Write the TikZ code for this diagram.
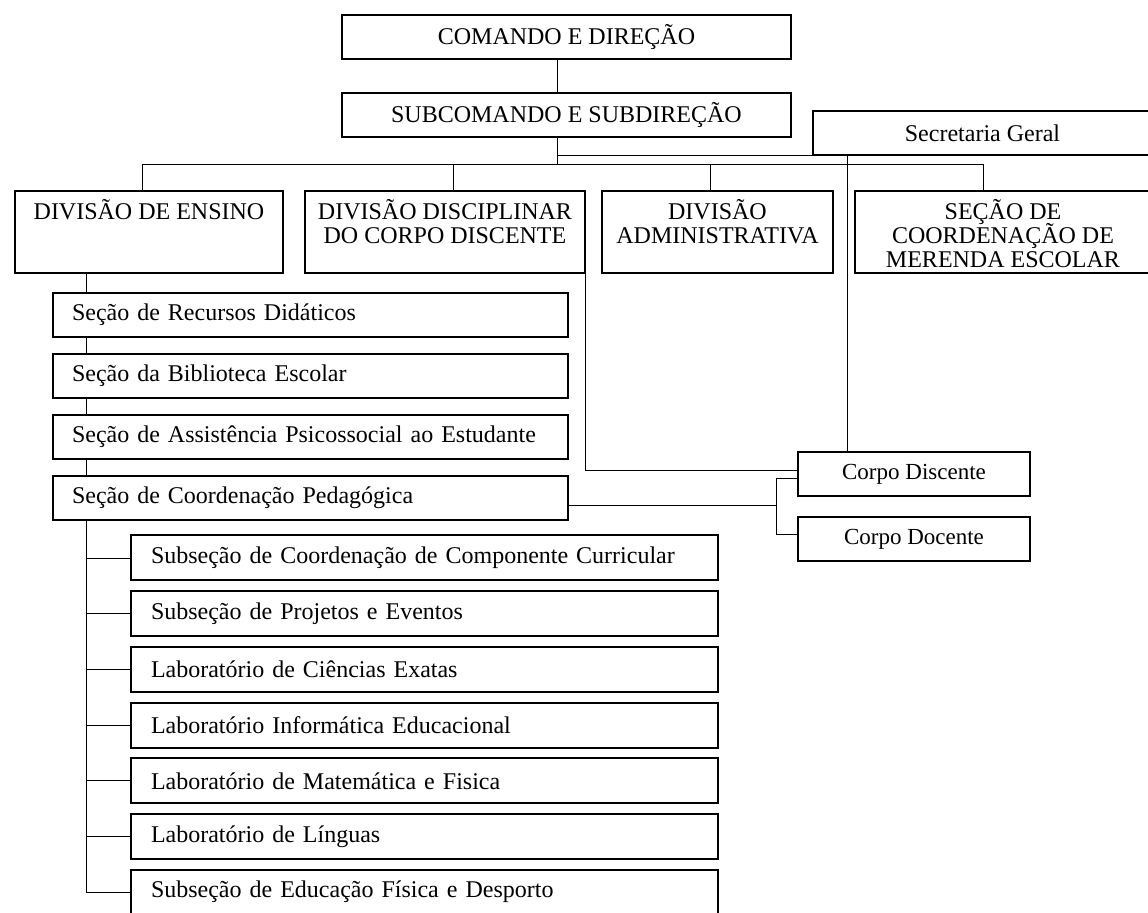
\documentclass[tikz,border=0pt]{standalone}
\usepackage{fontspec}
\setmainfont{Liberation Serif}
\usetikzlibrary{backgrounds}
\newcommand{\divlabel}[2]{\parbox[c][41pt][t]{#1}{\lineskiplimit=-20pt\centering\rule{0pt}{14.5pt}#2}}

\begin{document}
\begin{tikzpicture}[x=0.5pt,y=-0.5pt,
  box/.style={draw, line width=1pt, fill=white, inner sep=0pt, outer sep=0pt, font=\fontsize{12}{11.8}\selectfont},
  topbox/.style={box, minimum width=224.5pt, minimum height=22pt},
  secbox/.style={box, minimum height=22pt, text width=238.5pt, inner xsep=9.5pt, align=left},
  subbox/.style={box, minimum height=22.5pt, text width=273.5pt, inner xsep=10pt, align=left},
  corpo/.style={box, minimum width=116pt, minimum height=22pt, font=\fontsize{11.5}{13}\selectfont},
  link/.style={line width=0.8pt}]
\useasboundingbox (0,0) rectangle (1148,913);
\node[topbox] (cmd) at (566.5,37) {COMANDO E DIREÇÃO};
\node[topbox] (subcmd) at (566.5,115) {SUBCOMANDO E SUBDIREÇÃO};
\node[box, minimum width=169.5pt, minimum height=22pt] (secg) at (982.5,133) {Secretaria Geral};
\node[box] (ens) at (149,232) {\divlabel{134pt}{DIVISÃO DE ENSINO}};
\node[box] (disc) at (445,232) {\divlabel{140pt}{DIVISÃO DISCIPLINAR\\DO CORPO DISCENTE}};
\node[box] (adm) at (717.5,232) {\divlabel{115.5pt}{DIVISÃO\\ADMINISTRATIVA}};
\node[box] (mer) at (1003,232) {\divlabel{148pt}{SEÇÃO DE\\COORDENAÇÃO DE\\MERENDA ESCOLAR}};
\foreach \i/\t in {1/{Seção de Recursos Didáticos}, 2/{Seção da Biblioteca Escolar},
    3/{Seção de Assistência Psicossocial ao Estudante}, 4/{Seção de Coordenação Pedagógica}}
  \node[secbox] (sc\i) at (310.5,254+61*\i) {\t};
\foreach \i/\t in {1/{Subseção de Coordenação de Componente Curricular}, 2/{Subseção de Projetos e Eventos},
    3/{Laboratório de Ciências Exatas}, 4/{Laboratório Informática Educacional},
    5/{Laboratório de Matemática e Fisica}, 6/{Laboratório de Línguas},
    7/{Subseção de Educação Física e Desporto}}
  \node[subbox] (sb\i) at (424.5,502.3+55.7*\i) {\t};
\node[corpo] (cdis) at (914,474) {Corpo Discente};
\node[corpo] (cdoc) at (914,539.5) {Corpo Docente};
\begin{scope}[on background layer, link]
\coordinate (bus) at (557,164);
\coordinate (jct) at (557,155);
\draw ([xshift=-4.75pt]cmd.south) -- ([xshift=-4.75pt]subcmd.north);
\draw ([xshift=-4.75pt]subcmd.south) -- (bus);
\draw (jct) -- (secg.south west);
\coordinate (dE) at ([xshift=-3.5pt]ens.north);
\coordinate (dD) at ([xshift=4pt]disc.north);
\coordinate (dA) at ([xshift=-3.75pt]adm.north);
\coordinate (dM) at ([xshift=-10pt]mer.north);
\draw (dE) |- (dM |- bus) -- (dM);
\draw (dD) -- (dD |- bus);
\draw (dA) -- (dA |- bus);
\coordinate (dS) at ([xshift=24.5pt]cdis.north west);
\draw (dS |- secg.south) -- (dS);
\draw (disc.south east) |- ([yshift=2pt]cdis.west);
\coordinate (brk) at (776,500);
\coordinate (aD) at ([yshift=-2pt]cdis.west);
\coordinate (aC) at ([yshift=2.75pt]cdoc.west);
\coordinate (aP) at ([yshift=-3.5pt]sc4.east);
\draw (aP) -- (aP -| brk);
\draw (aD) -| (brk |- aC) -- (aC);
\coordinate (sp) at (86,0);
\draw (ens.south -| sp) -- (sp |- sb7.west);
\foreach \i in {1,...,7}
  \draw (sp |- sb\i.west) -- (sb\i.west);
\end{scope}
\end{tikzpicture}
\end{document}
